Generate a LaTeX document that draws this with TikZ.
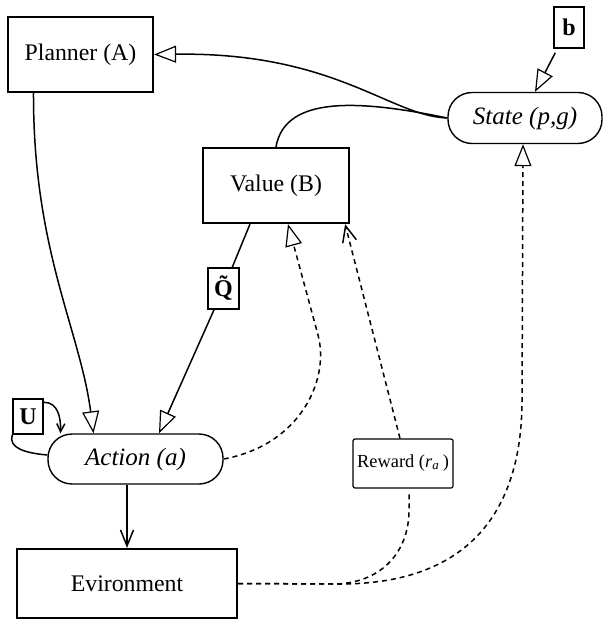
\documentclass[tikz,border=0pt]{standalone}
\usepackage{fontspec}
\setmainfont{Liberation Serif}
\usetikzlibrary{arrows.meta}

\begin{document}
\begin{tikzpicture}[x=0.5pt,y=-0.5pt,
  box/.style={draw,line width=1.1pt,inner sep=0pt,font=\fontsize{11.9}{14}\selectfont},
  oval/.style={draw,line width=0.7pt,rounded corners=12pt,inner sep=0pt,font=\fontsize{12.5}{15}\selectfont\itshape},
  tag/.style={draw,line width=0.7pt,inner sep=0pt,fill=white,font=\fontsize{12}{14}\selectfont\bfseries},
  link/.style={line width=0.75pt},
  tri/.style={link,-{Triangle[open,length=11pt,width=8.5pt,line width=0.6pt]}},
  barb/.style={link,-{Straight Barb[length=8pt,width=6.5pt]}},
  fb/.style={dash pattern=on 2.5pt off 2pt}]
\useasboundingbox (0,0) rectangle (603,620);
\node[box,minimum width=72.5pt,minimum height=37.5pt] (planner) at (80.5,54.5) {Planner (A)};
\node[box,minimum width=73pt,minimum height=37.5pt] (value) at (276,185.5) {Value (B)};
\node[box,minimum width=110pt,minimum height=34.5pt] (env) at (127,583.5) {Evironment};
\node[oval,minimum width=77pt,minimum height=25.5pt] (state) at (525,118) {State (p,g)};
\node[oval,minimum width=87.5pt,minimum height=25pt] (action) at (135.5,459) {Action (a)};
\node[draw,line width=0.6pt,rounded corners=1pt,minimum width=50pt,minimum height=24.5pt,inner sep=0pt,font=\fontsize{9.2}{11}\selectfont] (reward) at (403,463.5) {Reward (\textit{r}\textsubscript{\textit{a}}\,)};
\node[tag,minimum width=15pt,minimum height=20.5pt] (b) at (569,27.5) {b};
\node[tag,minimum width=15pt,minimum height=17.5pt] (u) at (28,416.5) {U};
\node[tag,minimum width=15.5pt,minimum height=20.5pt] (qt) at (223.5,288.5) {\~Q};
\draw[tri] (state.west) .. controls (390,116) and (335,52) .. (planner.east);
\draw[link] (state.west) .. controls (360,100) and (285,95) .. (value.north);
\draw[tri] ([shift={(1pt,-2pt)}]b.south west) -- ([xshift=5pt]state.north);
\draw[tri] ([xshift=-23.5pt]planner.south) .. controls (33,250) and (80,330) .. ([xshift=-21pt]action.north);
\draw[link] ([xshift=-13pt]value.south) -- (qt);
\draw[tri] (qt) -- ([xshift=11.75pt]action.north);
\draw[link,-{Straight Barb[length=4pt,width=4pt]}] ([yshift=-2pt]u.north east) .. controls (58,402) and (61,418) .. ([xshift=-37.5pt]action.north);
\draw[link] (u.south west) .. controls (8,448) and (25,453) .. ([yshift=2pt]action.west);
\draw[barb] (action.south -| env.north) -- (env.north);
\draw[link,fb,-{Triangle[open,length=11pt,width=8.5pt,line width=0.6pt]}] (action.east) .. controls (300,445) and (330,380) .. (318,335) -- ([xshift=6pt]value.south);
\draw[link,fb,-{Straight Barb[length=8pt,width=7pt]}] ([xshift=-1.5pt]reward.north) -- ([xshift=-2.5pt]value.south east);
\draw[link,fb] (env.east) -- (333,584) .. controls (378,584) and (409,555) .. (409,510) -- ([xshift=3pt,yshift=-2.5pt]reward.south);
\draw[link,fb,-{Triangle[open,length=11pt,width=8.5pt,line width=0.6pt]}] (env.east) -- (340,584) .. controls (470,584) and (522,510) .. (522,400) -- ([xshift=-1pt]state.south);
\end{tikzpicture}
\end{document}
